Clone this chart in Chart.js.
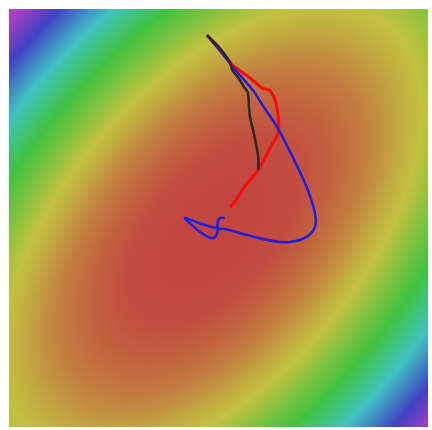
<!DOCTYPE html>
<html lang="en">
<head>
    <meta charset="UTF-8">
    <title>Optimizer paths</title>
    <script src="https://cdn.jsdelivr.net/npm/chart.js"></script>
    <style>
        html, body { margin: 0; padding: 0; background: #fff; }
        #wrap { width: 432px; height: 430px; }
    </style>
</head>
<body>
    <div id="wrap"><canvas id="myChart"></canvas></div>
    <script>
        // paths, in plot units (-2..2 on both axes)
        const blackX = [-0.11, 0.00, 0.11, 0.13, 0.19, 0.24, 0.28, 0.29, 0.30, 0.33, 0.35, 0.38, 0.38];
        const blackY = [1.75, 1.64, 1.49, 1.42, 1.34, 1.26, 1.20, 1.08, 0.97, 0.84, 0.75, 0.58, 0.46];

        const redX = [-0.11, 0.01, 0.14, 0.30, 0.42, 0.49, 0.54, 0.57, 0.57, 0.51, 0.44, 0.38, 0.25, 0.18, 0.11];
        const redY = [1.75, 1.61, 1.46, 1.34, 1.24, 1.22, 1.13, 0.96, 0.81, 0.70, 0.57, 0.46, 0.30, 0.19, 0.10];

        const blueX = [-0.11, 0.01, 0.14, 0.33, 0.44, 0.56, 0.71, 0.84, 0.92, 0.92, 0.84, 0.68, 0.52, 0.30, 0.08, -0.05, -0.18, -0.32, -0.25, -0.18, -0.08, -0.03, -0.01, -0.01, 0.01, 0.06];
        const blueY = [1.75, 1.61, 1.44, 1.22, 1.05, 0.87, 0.58, 0.30, 0.05, -0.09, -0.18, -0.23, -0.22, -0.17, -0.11, -0.09, -0.05, 0.00, -0.07, -0.13, -0.19, -0.18, -0.13, -0.06, 0.00, 0.00];

        // background surface: tilted elliptical bowl
        const bowlCx = -0.06, bowlCy = -0.14;
        const bowlScale = 1.094, bowlB = 1.0, bowlC = 0.85;
        // colour map: hue against bowl height
        const levelStops = [0, 0.5, 1.1, 1.6, 2.1, 2.6, 3.1, 3.6, 4.2, 5.4, 7.5, 10.0, 12.2, 14];
        const hueStops = [2, 6, 18, 28, 40, 52, 60, 74, 92, 120, 180, 240, 290, 300];
        const satHi = 194, satLo = 64;

        const toPts = (xs, ys) => xs.map((x, i) => ({ x: x, y: ys[i] }));

        function hueFor(level) {
            if (level <= levelStops[0]) return hueStops[0];
            for (let i = 1; i < levelStops.length; i++) {
                if (level <= levelStops[i]) {
                    const t = (level - levelStops[i - 1]) / (levelStops[i] - levelStops[i - 1]);
                    return hueStops[i - 1] + (hueStops[i] - hueStops[i - 1]) * t;
                }
            }
            return hueStops[hueStops.length - 1];
        }

        function hueColour(h) {
            const hp = h / 60, x = 1 - Math.abs(hp % 2 - 1);
            const span = satHi - satLo;
            let rgb;
            if (hp < 1) rgb = [1, x, 0];
            else if (hp < 2) rgb = [x, 1, 0];
            else if (hp < 3) rgb = [0, 1, x];
            else if (hp < 4) rgb = [0, x, 1];
            else if (hp < 5) rgb = [x, 0, 1];
            else rgb = [1, 0, x];
            return rgb.map(c => satLo + c * span);
        }

        const surfacePlugin = {
            id: 'surface',
            beforeDatasetsDraw(chart) {
                const area = chart.chartArea;
                const sx = chart.scales.x, sy = chart.scales.y;
                const w = Math.round(area.right - area.left), h = Math.round(area.bottom - area.top);
                const off = document.createElement('canvas');
                off.width = w; off.height = h;
                const octx = off.getContext('2d');
                const img = octx.createImageData(w, h);
                for (let j = 0; j < h; j++) {
                    const dy = sy.getValueForPixel(area.top + j + 0.5) - bowlCy;
                    for (let i = 0; i < w; i++) {
                        const dx = sx.getValueForPixel(area.left + i + 0.5) - bowlCx;
                        const level = bowlScale * (dx * dx + bowlC * dy * dy - bowlB * dx * dy);
                        const c = hueColour(hueFor(level));
                        const k = (j * w + i) * 4;
                        img.data[k] = c[0]; img.data[k + 1] = c[1]; img.data[k + 2] = c[2]; img.data[k + 3] = 255;
                    }
                }
                octx.putImageData(img, 0, 0);
                chart.ctx.drawImage(off, area.left, area.top);
            }
        };

        const ctx = document.getElementById('myChart').getContext('2d');
        const myChart = new Chart(ctx, {
            type: 'scatter',
            data: {
                datasets: [
                    {
                        label: 'black',
                        data: toPts(blackX, blackY),
                        showLine: true,
                        borderColor: 'rgba(45, 40, 35, 1)',
                        borderWidth: 2.5,
                        pointRadius: 0,
                        tension: 0.3
                    },
                    {
                        label: 'blue',
                        data: toPts(blueX, blueY),
                        showLine: true,
                        borderColor: 'rgba(30, 30, 225, 1)',
                        borderWidth: 2.5,
                        pointRadius: 0,
                        tension: 0.3
                    },
                    {
                        label: 'red',
                        data: toPts(redX, redY),
                        showLine: true,
                        borderColor: 'rgba(250, 10, 10, 1)',
                        borderWidth: 3,
                        pointRadius: 0,
                        tension: 0.2
                    }
                ]
            },
            options: {
                responsive: true,
                maintainAspectRatio: false,
                animation: false,
                layout: { padding: { left: 9, right: 4, top: 9, bottom: 3 } },
                plugins: { legend: { display: false }, tooltip: { enabled: false } },
                scales: {
                    x: { type: 'linear', min: -2, max: 2, display: false },
                    y: { type: 'linear', min: -2, max: 2, display: false }
                }
            },
            plugins: [surfacePlugin]
        });
    </script>
</body>
</html>
